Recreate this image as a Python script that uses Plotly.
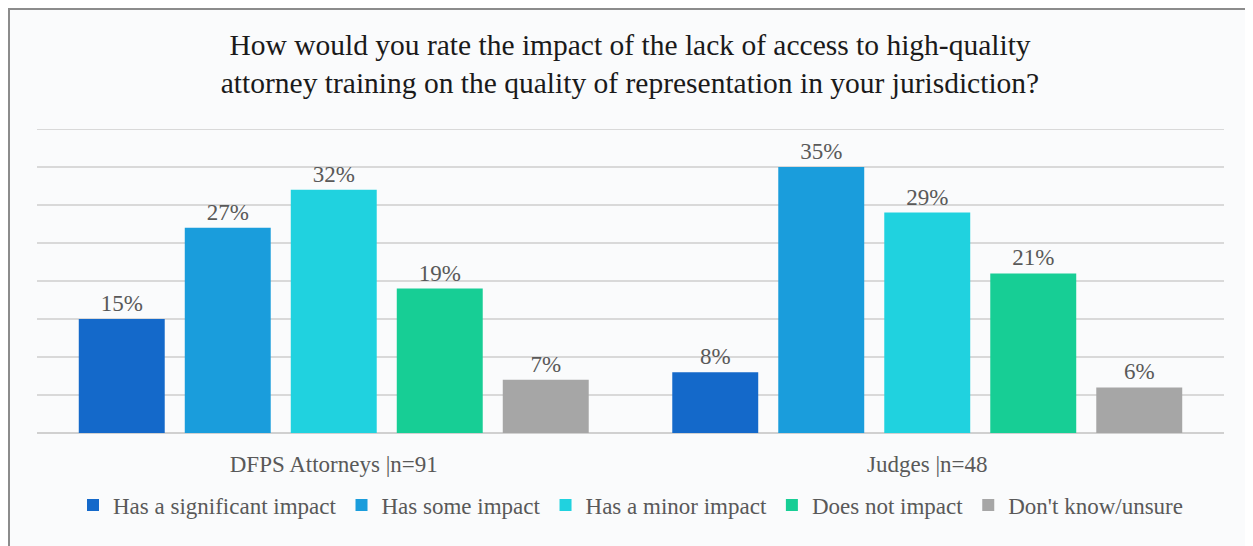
import plotly.graph_objects as go

categories = ["DFPS Attorneys |n=91", "Judges |n=48"]
series_names = ["Has a significant impact", "Has some impact", "Has a minor impact",
                "Does not impact", "Don't know/unsure"]
significant = [15, 8]
some = [27, 35]
minor = [32, 29]
not_impact = [19, 21]
unsure = [7, 6]
series_values = [significant, some, minor, not_impact, unsure]
colors = ["#1469CA", "#1A9DDC", "#20D2DF", "#17CE95", "#A6A6A6"]

FONT = "Liberation Serif"
W, H = 1245, 538
L, R, T, B = 29, 29, 121, 113
PW, PH = W - L - R, H - T - B
Y_MAX = 40

fig = go.Figure()
for name, vals, col in zip(series_names, series_values, colors):
    fig.add_trace(go.Bar(
        name=name, x=categories, y=vals,
        marker=dict(color=col, line=dict(width=0)),
        text=[f"{v}%" for v in vals], textposition="outside",
        textfont=dict(family=FONT, size=23, color="#595959"),
        cliponaxis=False,
    ))

fig.update_layout(
    width=W, height=H,
    barmode="group", bargap=0.107, bargroupgap=0.189,
    paper_bgcolor="#F8F9FA", plot_bgcolor="rgba(0,0,0,0)",
    margin=dict(l=L, r=R, t=T, b=B, autoexpand=False),
    title=dict(
        text="How would you rate the impact of the lack of access to high-quality<br>attorney training on the quality of representation in your jurisdiction?",
        x=(630 - 8) / W, xanchor="center", y=1 - 47 / H, yanchor="top",
        font=dict(family=FONT, size=29.5, color="#1a1a1a"),
    ),
    font=dict(family=FONT, color="#595959"),
    legend=dict(orientation="h", x=0.5, xanchor="center", y=-72 / PH, yanchor="middle",
                font=dict(family=FONT, size=23, color="#595959"),
                bgcolor="rgba(0,0,0,0)", itemclick=False, traceorder="normal"),
    yaxis=dict(range=[0, Y_MAX], dtick=5, showticklabels=False, gridcolor="#D9D9D9",
               gridwidth=2, zeroline=True, zerolinecolor="#D0D0D0", zerolinewidth=2,
               fixedrange=True),
    xaxis=dict(tickfont=dict(family=FONT, size=23, color="#595959"),
               ticks="outside", ticklen=10, tickcolor="rgba(0,0,0,0)", showline=False),
    shapes=[
        dict(type="rect", xref="paper", yref="paper", layer="below",
             x0=-(L - 1) / PW, x1=1.1, y0=-0.6, y1=1 + (T - 1) / PH,
             line=dict(color="#8C8C8C", width=2), fillcolor="#FAFBFC"),
        dict(type="line", xref="paper", yref="y", layer="below",
             x0=0, x1=1, y0=Y_MAX, y1=Y_MAX, line=dict(color="#D9D9D9", width=2)),
    ],
)

fig.write_html("out.html")
